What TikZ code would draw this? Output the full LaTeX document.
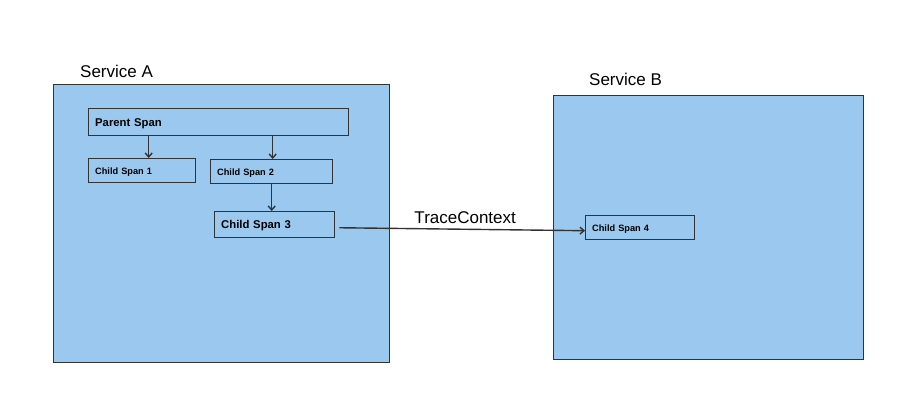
\documentclass[tikz,border=0pt]{standalone}
\usepackage{fontspec}
\setmainfont{Liberation Sans}
\usepackage{tikz}
\usetikzlibrary{arrows.meta}
\definecolor{svcblue}{HTML}{9AC8EE}
\definecolor{linegray}{HTML}{333333}

\tikzset{
  svcbox/.style={draw=linegray, fill=svcblue, line width=1.4pt, anchor=north west, inner sep=0pt},
  spanbox/.style={draw=linegray, fill=svcblue, line width=1.4pt, anchor=north west,
    inner xsep=6.5pt, inner ysep=0pt, text depth=0pt, align=left, font=\bfseries},
  svclabel/.style={anchor=west, inner sep=0pt, font=\fontsize{17}{20}\selectfont},
  arr/.style={draw=linegray, line width=1.4pt, -{Straight Barb[length=4pt,width=7pt]}}
}

\begin{document}
\begin{tikzpicture}[x=1pt,y=-1pt]
\useasboundingbox (0,0) rectangle (916,415);

% services
\node[svcbox, minimum width=336pt, minimum height=278pt] (svcA) at (53,84) {};
\node[svcbox, minimum width=310pt, minimum height=264pt] (svcB) at (553,95) {};
\node[svclabel] (labA) at (80,71) {Service A};
\node[svclabel] (labB) at (589,79) {Service B};

% spans in service A
\node[spanbox, text width=247pt, minimum height=27pt, font=\bfseries\fontsize{11.3}{13}\selectfont] (parent) at (88,108) {Parent Span};
\node[spanbox, text width=94pt, minimum height=24pt, font=\bfseries\fontsize{9.2}{11}\selectfont] (cs1) at (88,158) {Child Span 1};
\node[spanbox, text width=109pt, minimum height=24pt, font=\bfseries\fontsize{9.2}{11}\selectfont] (cs2) at (210,159) {Child Span 2};
\node[spanbox, text width=107pt, minimum height=26pt, font=\bfseries\fontsize{11.3}{13}\selectfont] (cs3) at (214,211) {Child Span 3};

% span in service B
\node[spanbox, text width=96pt, minimum height=24pt, font=\bfseries\fontsize{9.2}{11}\selectfont] (cs4) at (585,215) {Child Span 4};

% arrows
\draw[arr] ([xshift=6.5pt]parent.south -| cs1.north) -- ([xshift=6.5pt]cs1.north);
\draw[arr] ([xshift=1pt]parent.south -| cs2.north) -- ([xshift=1pt]cs2.north);
\draw[arr] (cs2.south) -- (cs2.south |- cs3.north);
\draw[arr, shorten <=4pt] ([yshift=-3pt]cs3.east) -- ([yshift=-3pt]cs4.west)
  node[pos=0.52, above=1.5pt, font=\fontsize{17}{20}\selectfont] (ctx) {TraceContext};
\end{tikzpicture}
\end{document}
